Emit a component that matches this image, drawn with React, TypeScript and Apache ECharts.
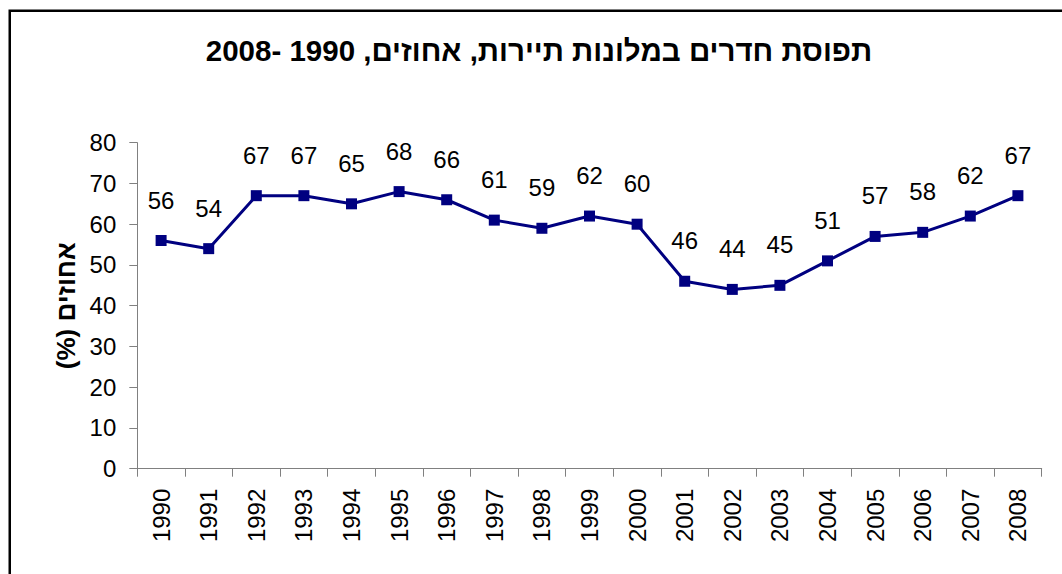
import React, { useEffect, useRef } from "react";
import * as echarts from "echarts";

const years = ["1990","1991","1992","1993","1994","1995","1996","1997","1998","1999","2000","2001","2002","2003","2004","2005","2006","2007","2008"];
const occupancy = [56, 54, 67, 67, 65, 68, 66, 61, 59, 62, 60, 46, 44, 45, 51, 57, 58, 62, 67];
const titleText = "תפוסת חדרים במלונות תיירות, אחוזים, 1990 -2008";
const yAxisName = "אחוזים (%)\u200F";

const FONT = "'Liberation Sans', Arial, sans-serif";

export default function App() {
  const ref = useRef<HTMLDivElement>(null);
  useEffect(() => {
    document.body.style.margin = "0";
    const chart = echarts.init(ref.current!, null, { renderer: "svg" });
    chart.setOption({
      animation: false,
      backgroundColor: "#ffffff",
      grid: { left: 137.3, right: 20.3, top: 142.7, bottom: 105.3, containLabel: false },
      graphic: [
        {
          type: "rect",
          shape: { x: 9.75, y: 10.7, width: 1100, height: 620 },
          style: { fill: "none", stroke: "#000", lineWidth: 2.5 },
          silent: true,
        },
        {
          type: "text",
          x: 539,
          y: 50,
          style: {
            text: titleText,
            align: "center",
            verticalAlign: "middle",
            font: `bold 29.5px ${FONT}`,
            fill: "#000",
          },
        },
      ],
      xAxis: {
        type: "category",
        data: years,
        boundaryGap: true,
        axisLine: { lineStyle: { color: "#808080", width: 1 } },
        axisTick: { show: true, alignWithLabel: false, length: 8, lineStyle: { color: "#808080" } },
        axisLabel: { rotate: 90, margin: 20, color: "#000", fontSize: 24, fontFamily: FONT, interval: 0 },
        splitLine: { show: false },
      },
      yAxis: {
        type: "value",
        min: 0,
        max: 80,
        interval: 10,
        name: yAxisName,
        nameLocation: "middle",
        nameGap: 58,
        nameTextStyle: { color: "#000", fontSize: 26, fontWeight: "bold", fontFamily: FONT },
        axisLine: { show: true, lineStyle: { color: "#808080", width: 1 } },
        axisTick: { show: true, length: 8, lineStyle: { color: "#808080" } },
        axisLabel: { margin: 21, color: "#000", fontSize: 24, fontFamily: FONT },
        splitLine: { show: false },
      },
      series: [
        {
          type: "line",
          data: occupancy,
          symbol: "rect",
          symbolSize: 11,
          lineStyle: { color: "#000080", width: 3 },
          itemStyle: { color: "#000080" },
          label: {
            show: true,
            position: "top",
            distance: 23,
            color: "#000",
            fontSize: 24,
            fontFamily: FONT,
          },
        },
      ],
    });
    return () => chart.dispose();
  }, []);
  return <div ref={ref} style={{ width: 1062, height: 574 }} />;
}
